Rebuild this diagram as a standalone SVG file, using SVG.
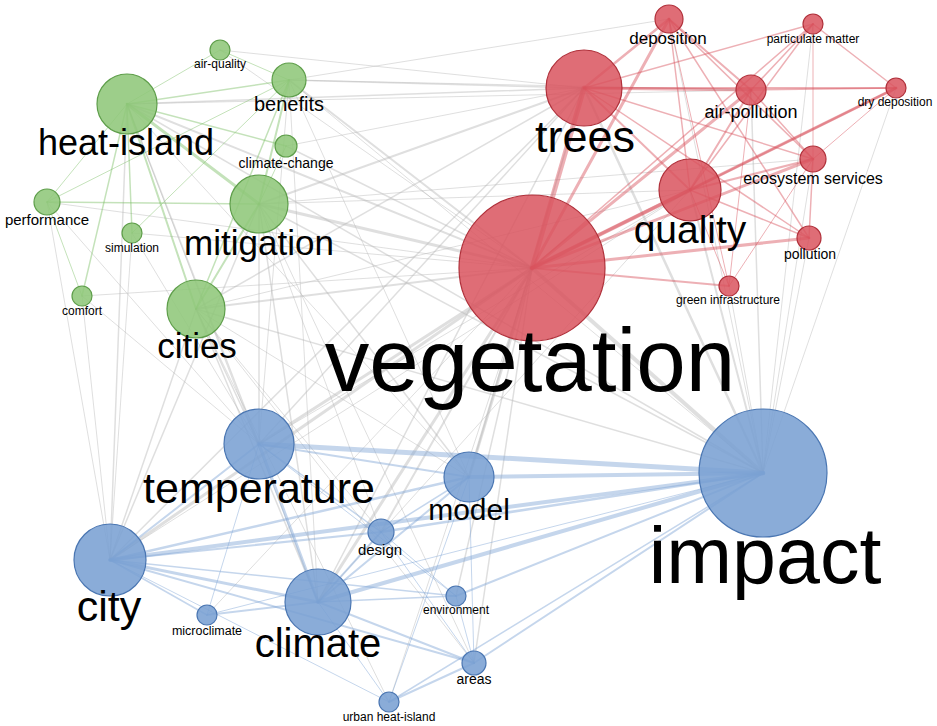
<svg xmlns="http://www.w3.org/2000/svg" width="937" height="726" viewBox="0 0 937 726">
<style>
text{font-family:"Liberation Sans",Arial,sans-serif;fill:#000;text-anchor:middle}
.e line{stroke-linecap:round}
.g line{stroke:#b8b8b8;stroke-opacity:0.45}
.r line{stroke:#d6505a;stroke-opacity:0.45}
.gr line{stroke:#7cbf66;stroke-opacity:0.45}
.b line{stroke:#7ea4d4;stroke-opacity:0.45}
.ng circle{fill:#8fc77a;fill-opacity:0.88;stroke:#5e9e4a;stroke-width:1.2}
.nr circle{fill:#d9545e;fill-opacity:0.85;stroke:#b0303a;stroke-width:1.2}
.nb circle{fill:#7aa0d3;fill-opacity:0.88;stroke:#4a76b2;stroke-width:1.2}
</style>
<rect width="937" height="726" fill="#fff"/>
<g id="connectors" class="e">
<g class="g">
<line x1="532" y1="268" x2="259" y2="444" stroke-width="3"/>
<line x1="532" y1="268" x2="110" y2="560" stroke-width="3"/>
<line x1="532" y1="268" x2="318" y2="602" stroke-width="3"/>
<line x1="532" y1="268" x2="469" y2="477" stroke-width="3"/>
<line x1="532" y1="268" x2="763" y2="473" stroke-width="4"/>
<line x1="532" y1="268" x2="196" y2="309" stroke-width="2"/>
<line x1="532" y1="268" x2="259" y2="204" stroke-width="3"/>
<line x1="532" y1="268" x2="127" y2="104" stroke-width="2"/>
<line x1="532" y1="268" x2="289" y2="80" stroke-width="2"/>
<line x1="532" y1="268" x2="381" y2="532" stroke-width="2"/>
<line x1="532" y1="268" x2="474" y2="663" stroke-width="1.5"/>
<line x1="532" y1="268" x2="456" y2="596" stroke-width="1.5"/>
<line x1="532" y1="268" x2="389" y2="702" stroke-width="1"/>
<line x1="532" y1="268" x2="207" y2="615" stroke-width="1"/>
<line x1="532" y1="268" x2="47" y2="202" stroke-width="1"/>
<line x1="532" y1="268" x2="82" y2="296" stroke-width="1"/>
<line x1="532" y1="268" x2="132" y2="233" stroke-width="1"/>
<line x1="532" y1="268" x2="286" y2="146" stroke-width="1.5"/>
<line x1="532" y1="268" x2="220" y2="50" stroke-width="1"/>
<line x1="584" y1="88" x2="127" y2="104" stroke-width="1.5"/>
<line x1="584" y1="88" x2="289" y2="80" stroke-width="1.5"/>
<line x1="584" y1="88" x2="259" y2="204" stroke-width="2"/>
<line x1="584" y1="88" x2="196" y2="309" stroke-width="1.5"/>
<line x1="584" y1="88" x2="763" y2="473" stroke-width="2.5"/>
<line x1="584" y1="88" x2="259" y2="444" stroke-width="1.5"/>
<line x1="584" y1="88" x2="110" y2="560" stroke-width="1.5"/>
<line x1="584" y1="88" x2="318" y2="602" stroke-width="1.5"/>
<line x1="584" y1="88" x2="469" y2="477" stroke-width="1.5"/>
<line x1="584" y1="88" x2="286" y2="146" stroke-width="1"/>
<line x1="690" y1="190" x2="763" y2="473" stroke-width="2"/>
<line x1="690" y1="190" x2="110" y2="560" stroke-width="1"/>
<line x1="690" y1="190" x2="196" y2="309" stroke-width="1"/>
<line x1="690" y1="190" x2="259" y2="444" stroke-width="1"/>
<line x1="690" y1="190" x2="259" y2="204" stroke-width="1"/>
<line x1="690" y1="190" x2="318" y2="602" stroke-width="1"/>
<line x1="763" y1="473" x2="196" y2="309" stroke-width="1.5"/>
<line x1="763" y1="473" x2="259" y2="204" stroke-width="1.5"/>
<line x1="763" y1="473" x2="127" y2="104" stroke-width="1.5"/>
<line x1="763" y1="473" x2="289" y2="80" stroke-width="1"/>
<line x1="763" y1="473" x2="751" y2="90" stroke-width="1.5"/>
<line x1="763" y1="473" x2="813" y2="159" stroke-width="1"/>
<line x1="763" y1="473" x2="809" y2="238" stroke-width="1"/>
<line x1="763" y1="473" x2="669" y2="19" stroke-width="1"/>
<line x1="763" y1="473" x2="729" y2="286" stroke-width="1"/>
<line x1="763" y1="473" x2="896" y2="88" stroke-width="1"/>
<line x1="763" y1="473" x2="813" y2="24" stroke-width="1"/>
<line x1="259" y1="444" x2="127" y2="104" stroke-width="1.5"/>
<line x1="259" y1="444" x2="259" y2="204" stroke-width="1.5"/>
<line x1="259" y1="444" x2="196" y2="309" stroke-width="1.5"/>
<line x1="259" y1="444" x2="47" y2="202" stroke-width="1"/>
<line x1="259" y1="444" x2="82" y2="296" stroke-width="1"/>
<line x1="259" y1="444" x2="132" y2="233" stroke-width="1"/>
<line x1="259" y1="444" x2="289" y2="80" stroke-width="1"/>
<line x1="110" y1="560" x2="127" y2="104" stroke-width="1.5"/>
<line x1="110" y1="560" x2="259" y2="204" stroke-width="1.5"/>
<line x1="110" y1="560" x2="196" y2="309" stroke-width="1.5"/>
<line x1="110" y1="560" x2="47" y2="202" stroke-width="1"/>
<line x1="110" y1="560" x2="82" y2="296" stroke-width="1"/>
<line x1="110" y1="560" x2="132" y2="233" stroke-width="1"/>
<line x1="318" y1="602" x2="196" y2="309" stroke-width="1.5"/>
<line x1="318" y1="602" x2="259" y2="204" stroke-width="1.5"/>
<line x1="318" y1="602" x2="127" y2="104" stroke-width="1"/>
<line x1="318" y1="602" x2="289" y2="80" stroke-width="1"/>
<line x1="469" y1="477" x2="259" y2="204" stroke-width="1.5"/>
<line x1="469" y1="477" x2="127" y2="104" stroke-width="1"/>
<line x1="469" y1="477" x2="196" y2="309" stroke-width="1"/>
<line x1="469" y1="477" x2="289" y2="80" stroke-width="1"/>
<line x1="381" y1="532" x2="196" y2="309" stroke-width="1"/>
<line x1="381" y1="532" x2="259" y2="204" stroke-width="1"/>
<line x1="474" y1="663" x2="196" y2="309" stroke-width="1"/>
<line x1="474" y1="663" x2="259" y2="204" stroke-width="1"/>
<line x1="751" y1="90" x2="289" y2="80" stroke-width="1"/>
<line x1="751" y1="90" x2="127" y2="104" stroke-width="1"/>
<line x1="669" y1="19" x2="289" y2="80" stroke-width="1"/>
<line x1="813" y1="159" x2="259" y2="204" stroke-width="1"/>
<line x1="389" y1="702" x2="196" y2="309" stroke-width="1"/>
<line x1="220" y1="50" x2="584" y2="88" stroke-width="1"/>
</g>
<g class="gr">
<line x1="127" y1="104" x2="259" y2="204" stroke-width="3"/>
<line x1="127" y1="104" x2="196" y2="309" stroke-width="2"/>
<line x1="127" y1="104" x2="289" y2="80" stroke-width="1.5"/>
<line x1="127" y1="104" x2="220" y2="50" stroke-width="1"/>
<line x1="127" y1="104" x2="286" y2="146" stroke-width="1.5"/>
<line x1="127" y1="104" x2="47" y2="202" stroke-width="1"/>
<line x1="127" y1="104" x2="132" y2="233" stroke-width="1.5"/>
<line x1="127" y1="104" x2="82" y2="296" stroke-width="1.5"/>
<line x1="259" y1="204" x2="289" y2="80" stroke-width="2"/>
<line x1="259" y1="204" x2="196" y2="309" stroke-width="2"/>
<line x1="259" y1="204" x2="47" y2="202" stroke-width="1.5"/>
<line x1="259" y1="204" x2="286" y2="146" stroke-width="1"/>
<line x1="289" y1="80" x2="47" y2="202" stroke-width="1"/>
<line x1="289" y1="80" x2="132" y2="233" stroke-width="1"/>
<line x1="289" y1="80" x2="196" y2="309" stroke-width="1.5"/>
<line x1="220" y1="50" x2="289" y2="80" stroke-width="1"/>
<line x1="47" y1="202" x2="82" y2="296" stroke-width="1"/>
</g>
<g class="r">
<line x1="532" y1="268" x2="584" y2="88" stroke-width="5"/>
<line x1="532" y1="268" x2="690" y2="190" stroke-width="4"/>
<line x1="532" y1="268" x2="751" y2="90" stroke-width="3"/>
<line x1="532" y1="268" x2="669" y2="19" stroke-width="3"/>
<line x1="532" y1="268" x2="813" y2="159" stroke-width="3"/>
<line x1="532" y1="268" x2="809" y2="238" stroke-width="3"/>
<line x1="532" y1="268" x2="896" y2="88" stroke-width="3"/>
<line x1="532" y1="268" x2="729" y2="286" stroke-width="2"/>
<line x1="532" y1="268" x2="813" y2="24" stroke-width="1.5"/>
<line x1="584" y1="88" x2="669" y2="19" stroke-width="2.5"/>
<line x1="584" y1="88" x2="751" y2="90" stroke-width="3"/>
<line x1="584" y1="88" x2="896" y2="88" stroke-width="2"/>
<line x1="584" y1="88" x2="690" y2="190" stroke-width="2"/>
<line x1="584" y1="88" x2="813" y2="159" stroke-width="1.5"/>
<line x1="584" y1="88" x2="813" y2="24" stroke-width="1.5"/>
<line x1="584" y1="88" x2="809" y2="238" stroke-width="1.5"/>
<line x1="669" y1="19" x2="751" y2="90" stroke-width="2"/>
<line x1="669" y1="19" x2="690" y2="190" stroke-width="1.5"/>
<line x1="669" y1="19" x2="813" y2="159" stroke-width="1.5"/>
<line x1="669" y1="19" x2="809" y2="238" stroke-width="1.5"/>
<line x1="669" y1="19" x2="729" y2="286" stroke-width="1"/>
<line x1="813" y1="24" x2="751" y2="90" stroke-width="1.5"/>
<line x1="813" y1="24" x2="896" y2="88" stroke-width="1.5"/>
<line x1="813" y1="24" x2="813" y2="159" stroke-width="1"/>
<line x1="813" y1="24" x2="690" y2="190" stroke-width="1.5"/>
<line x1="751" y1="90" x2="690" y2="190" stroke-width="2"/>
<line x1="751" y1="90" x2="896" y2="88" stroke-width="1.5"/>
<line x1="751" y1="90" x2="813" y2="159" stroke-width="1.5"/>
<line x1="751" y1="90" x2="729" y2="286" stroke-width="1"/>
<line x1="690" y1="190" x2="896" y2="88" stroke-width="2"/>
<line x1="690" y1="190" x2="813" y2="159" stroke-width="2"/>
<line x1="690" y1="190" x2="809" y2="238" stroke-width="1.5"/>
<line x1="690" y1="190" x2="729" y2="286" stroke-width="1"/>
<line x1="813" y1="159" x2="729" y2="286" stroke-width="1"/>
<line x1="813" y1="159" x2="809" y2="238" stroke-width="1.5"/>
<line x1="813" y1="159" x2="896" y2="88" stroke-width="1"/>
</g>
<g class="b">
<line x1="763" y1="473" x2="259" y2="444" stroke-width="5"/>
<line x1="763" y1="473" x2="469" y2="477" stroke-width="4"/>
<line x1="763" y1="473" x2="110" y2="560" stroke-width="4"/>
<line x1="763" y1="473" x2="318" y2="602" stroke-width="4"/>
<line x1="763" y1="473" x2="381" y2="532" stroke-width="2.5"/>
<line x1="763" y1="473" x2="474" y2="663" stroke-width="2"/>
<line x1="763" y1="473" x2="456" y2="596" stroke-width="2"/>
<line x1="763" y1="473" x2="389" y2="702" stroke-width="1.5"/>
<line x1="763" y1="473" x2="207" y2="615" stroke-width="1"/>
<line x1="259" y1="444" x2="469" y2="477" stroke-width="2"/>
<line x1="259" y1="444" x2="110" y2="560" stroke-width="2"/>
<line x1="259" y1="444" x2="318" y2="602" stroke-width="3"/>
<line x1="259" y1="444" x2="381" y2="532" stroke-width="1.5"/>
<line x1="259" y1="444" x2="207" y2="615" stroke-width="1"/>
<line x1="259" y1="444" x2="456" y2="596" stroke-width="1"/>
<line x1="110" y1="560" x2="318" y2="602" stroke-width="3"/>
<line x1="110" y1="560" x2="469" y2="477" stroke-width="2.5"/>
<line x1="110" y1="560" x2="381" y2="532" stroke-width="2"/>
<line x1="110" y1="560" x2="207" y2="615" stroke-width="1.5"/>
<line x1="110" y1="560" x2="474" y2="663" stroke-width="2"/>
<line x1="110" y1="560" x2="389" y2="702" stroke-width="1"/>
<line x1="110" y1="560" x2="456" y2="596" stroke-width="1.5"/>
<line x1="318" y1="602" x2="469" y2="477" stroke-width="2"/>
<line x1="318" y1="602" x2="207" y2="615" stroke-width="2"/>
<line x1="318" y1="602" x2="381" y2="532" stroke-width="2"/>
<line x1="318" y1="602" x2="456" y2="596" stroke-width="1.5"/>
<line x1="318" y1="602" x2="474" y2="663" stroke-width="2"/>
<line x1="318" y1="602" x2="389" y2="702" stroke-width="1"/>
<line x1="469" y1="477" x2="381" y2="532" stroke-width="1.5"/>
<line x1="469" y1="477" x2="474" y2="663" stroke-width="1"/>
<line x1="381" y1="532" x2="474" y2="663" stroke-width="1"/>
<line x1="456" y1="596" x2="474" y2="663" stroke-width="1"/>
<line x1="389" y1="702" x2="474" y2="663" stroke-width="2"/>
<line x1="389" y1="702" x2="469" y2="477" stroke-width="1"/>
<line x1="381" y1="532" x2="456" y2="596" stroke-width="1"/>
</g>
</g>
<g id="air-quality" class="ng"><circle cx="220" cy="50" r="10"/><text x="220" y="68" font-size="12">air-quality</text></g>
<g id="heat-island" class="ng"><circle cx="127" cy="104" r="30"/><text x="126" y="155" font-size="36">heat-island</text></g>
<g id="benefits" class="ng"><circle cx="289" cy="80" r="17"/><text x="289" y="111" font-size="20">benefits</text></g>
<g id="climate-change" class="ng"><circle cx="286" cy="146" r="11"/><text x="286" y="168" font-size="14">climate-change</text></g>
<g id="performance" class="ng"><circle cx="47" cy="202" r="13"/><text x="47" y="225" font-size="15">performance</text></g>
<g id="simulation" class="ng"><circle cx="132" cy="233" r="10"/><text x="132" y="252" font-size="12">simulation</text></g>
<g id="mitigation" class="ng"><circle cx="259" cy="204" r="29"/><text x="259" y="255" font-size="35">mitigation</text></g>
<g id="comfort" class="ng"><circle cx="82" cy="296" r="10"/><text x="82" y="315" font-size="12">comfort</text></g>
<g id="cities" class="ng"><circle cx="196" cy="309" r="29"/><text x="197" y="358" font-size="35">cities</text></g>
<g id="deposition" class="nr"><circle cx="669" cy="19" r="14"/><text x="668" y="44" font-size="17">deposition</text></g>
<g id="particulate-matter" class="nr"><circle cx="813" cy="24" r="10"/><text x="813" y="43" font-size="12">particulate matter</text></g>
<g id="trees" class="nr"><circle cx="584" cy="88" r="38"/><text x="585" y="152" font-size="45">trees</text></g>
<g id="air-pollution" class="nr"><circle cx="751" cy="90" r="15"/><text x="751" y="118" font-size="18">air-pollution</text></g>
<g id="dry-deposition" class="nr"><circle cx="896" cy="88" r="10"/><text x="895" y="106" font-size="12">dry deposition</text></g>
<g id="ecosystem-services" class="nr"><circle cx="813" cy="159" r="13"/><text x="813" y="184" font-size="16">ecosystem services</text></g>
<g id="quality" class="nr"><circle cx="690" cy="190" r="31"/><text x="690" y="243" font-size="39">quality</text></g>
<g id="pollution" class="nr"><circle cx="809" cy="238" r="12"/><text x="810" y="259" font-size="14">pollution</text></g>
<g id="green-infrastructure" class="nr"><circle cx="729" cy="286" r="10"/><text x="728" y="304" font-size="12">green infrastructure</text></g>
<g id="vegetation" class="nr"><circle cx="532" cy="268" r="73"/><text x="530" y="391" font-size="89">vegetation</text></g>
<g id="temperature" class="nb"><circle cx="259" cy="444" r="35"/><text x="259" y="503" font-size="43">temperature</text></g>
<g id="model" class="nb"><circle cx="469" cy="477" r="25"/><text x="469" y="520" font-size="30">model</text></g>
<g id="design" class="nb"><circle cx="381" cy="532" r="13"/><text x="380" y="555" font-size="15">design</text></g>
<g id="city" class="nb"><circle cx="110" cy="560" r="36"/><text x="109" y="621" font-size="43">city</text></g>
<g id="climate" class="nb"><circle cx="318" cy="602" r="33"/><text x="318" y="657" font-size="40">climate</text></g>
<g id="microclimate" class="nb"><circle cx="207" cy="615" r="10"/><text x="207" y="635" font-size="12.5">microclimate</text></g>
<g id="environment" class="nb"><circle cx="456" cy="596" r="10"/><text x="456" y="614" font-size="12">environment</text></g>
<g id="areas" class="nb"><circle cx="474" cy="663" r="12"/><text x="474" y="684" font-size="14">areas</text></g>
<g id="urban-heat-island" class="nb"><circle cx="389" cy="702" r="10"/><text x="389" y="721" font-size="12">urban heat-island</text></g>
<g id="impact" class="nb"><circle cx="763" cy="473" r="64"/><text x="765" y="583" font-size="79">impact</text></g>
</svg>
